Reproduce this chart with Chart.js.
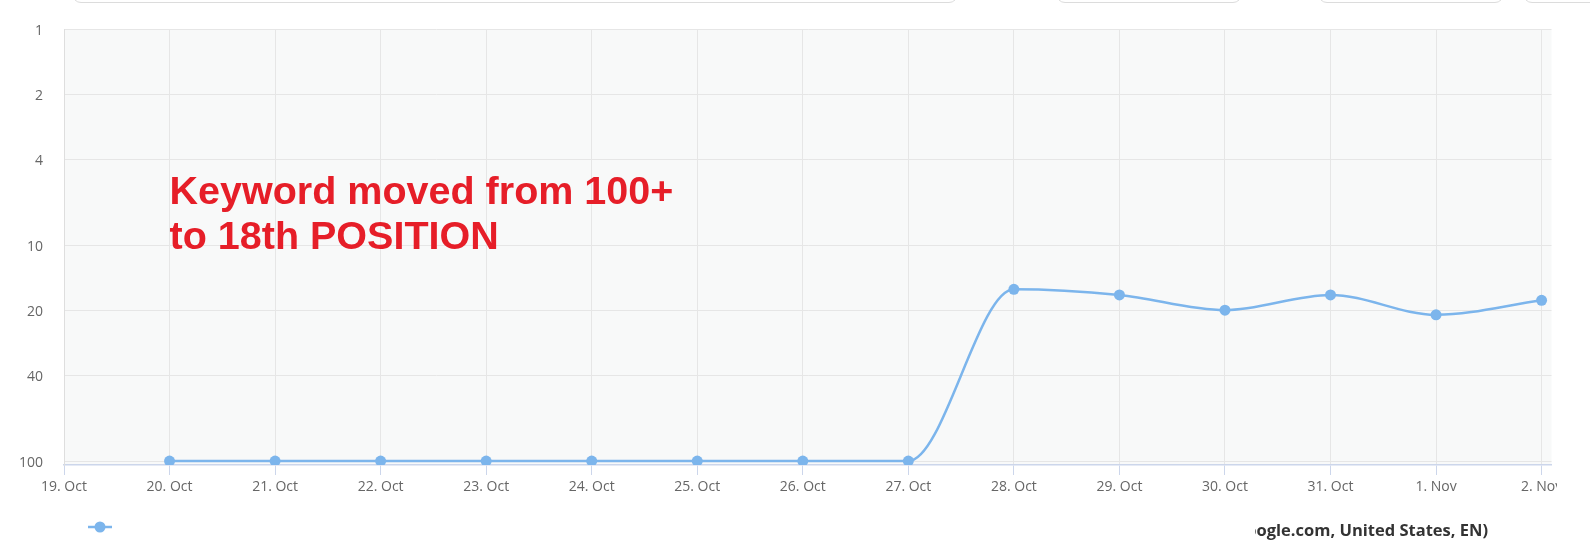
<!DOCTYPE html>
<html>
<head>
<meta charset="utf-8">
<script src="https://cdn.jsdelivr.net/npm/chart.js@4.4.1/dist/chart.umd.min.js"></script>
<style>
  body { margin: 0; background: #fff; width: 1590px; height: 552px; overflow: hidden; position: relative; font-family: 'Open Sans', sans-serif; }
  .box { position: absolute; top: -40px; height: 41px; border: 1px solid #dcdcdc; border-radius: 9px; background: #fff; }
  #wrap { position: absolute; left: 0; top: 0; width: 1557px; height: 552px; }
  #source { position: absolute; left: 1255px; top: 518px; width: 233px; height: 22px; line-height: 20px; overflow: hidden; display: flex; justify-content: flex-end; white-space: nowrap; font: bold 16.5px 'Open Sans', sans-serif; color: #333; }
</style>
</head>
<body>
<div class="box" style="left:72px; width:884px;"></div>
<div class="box" style="left:1056px; width:184px;"></div>
<div class="box" style="left:1318px; width:184px;"></div>
<div class="box" style="left:1523px; width:120px;"></div>
<div id="wrap"><canvas id="rankChart" width="1557" height="552"></canvas></div>
<div id="source"><span>(google.com, United States, EN)</span></div>
<script>
let dates = ['19. Oct', '20. Oct', '21. Oct', '22. Oct', '23. Oct', '24. Oct', '25. Oct', '26. Oct',
  '27. Oct', '28. Oct', '29. Oct', '30. Oct', '31. Oct', '1. Nov', '2. Nov'];
let positions = [null, 100, 100, 100, 100, 100, 100, 100, 100, 16, 17, 20, 17, 21, 18];
let yTicks = [1, 2, 4, 10, 20, 40, 100];
let noteLines = ['Keyword moved from 100+', 'to 18th POSITION'];

let lineColor = '#7cb5ec';

let points = [];
for (let i = 0; i < positions.length; i++) {
  if (positions[i] !== null) {
    points.push({ x: i, y: positions[i] });
  }
}

// plot background
const plotBg = {
  id: 'plotBg',
  beforeDraw(chart) {
    let a = chart.chartArea;
    let ctx = chart.ctx;
    ctx.save();
    ctx.fillStyle = '#f8f9f9';
    ctx.fillRect(a.left, a.top, a.right - a.left, a.bottom - a.top);
    ctx.restore();
  }
};

// red note + legend symbol
const extras = {
  id: 'extras',
  afterDraw(chart) {
    let ctx = chart.ctx;
    let a = chart.chartArea;
    let xs = chart.scales.x;
    ctx.save();
    ctx.fillStyle = '#e61e28';
    ctx.font = 'bold 39.5px "Liberation Sans", Arial, sans-serif';
    ctx.textBaseline = 'alphabetic';
    let left = xs.getPixelForValue(1);
    ctx.fillText(noteLines[0], left, a.top + 175);
    ctx.fillText(noteLines[1], left, a.top + 220);

    // legend item
    ctx.strokeStyle = lineColor;
    ctx.lineWidth = 2.5;
    ctx.beginPath();
    ctx.moveTo(88, 527);
    ctx.lineTo(112, 527);
    ctx.stroke();
    ctx.fillStyle = lineColor;
    ctx.beginPath();
    ctx.arc(100, 527, 5.5, 0, Math.PI * 2);
    ctx.fill();
    ctx.restore();
  }
};

const config = {
  type: 'line',
  data: {
    datasets: [{
      label: 'Position',
      data: points,
      borderColor: lineColor,
      backgroundColor: lineColor,
      borderWidth: 2.5,
      pointRadius: 5.5,
      pointBorderWidth: 0,
      pointHoverRadius: 5.5,
      cubicInterpolationMode: 'monotone',
      fill: false
    }]
  },
  options: {
    responsive: false,
    animation: false,
    events: [],
    layout: { padding: { top: 27, left: 0, right: 0, bottom: 0 } },
    plugins: {
      legend: { display: false },
      tooltip: { enabled: false }
    },
    scales: {
      x: {
        type: 'linear',
        min: 0,
        max: 14.094,
        afterBuildTicks: (scale) => {
          scale.ticks = dates.map((d, i) => ({ value: i }));
        },
        afterFit: (scale) => {
          scale.height = 87;
          scale.paddingLeft = 0;
          scale.paddingRight = 0;
        },
        ticks: {
          autoSkip: false,
          maxRotation: 0,
          padding: 4,
          color: '#666',
          font: { family: "'Open Sans', sans-serif", size: 14 },
          callback: (v) => dates[v]
        },
        grid: {
          color: '#e6e6e6',
          tickColor: '#ccd6eb',
          tickLength: 10,
          drawTicks: true
        },
        border: { display: true, color: '#ccd6eb', width: 1.5 }
      },
      y: {
        type: 'logarithmic',
        reverse: true,
        min: 1,
        max: 104.3,
        afterBuildTicks: (scale) => {
          scale.ticks = yTicks.map(v => ({ value: v }));
        },
        afterFit: (scale) => {
          scale.width = 64;
        },
        ticks: {
          padding: 21,
          labelOffset: 2,
          color: '#666',
          font: { family: "'Open Sans', sans-serif", size: 14 },
          callback: (v) => String(v)
        },
        grid: {
          color: '#e6e6e6',
          drawTicks: false
        },
        border: { display: true, color: '#dedede', width: 1 }
      }
    }
  },
  plugins: [plotBg, extras]
};

let canvasChart = document.getElementById('rankChart');
const rankChart = new Chart(canvasChart, config);
</script>
</body>
</html>
